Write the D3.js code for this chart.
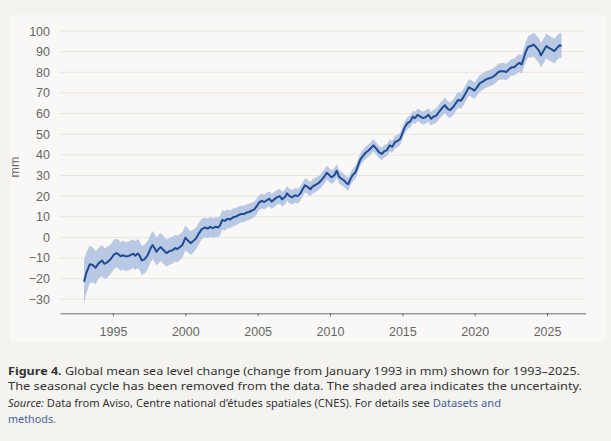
<!DOCTYPE html>
<html><head><meta charset="utf-8">
<script src="https://cdn.jsdelivr.net/npm/d3@7"></script>
<style>
html,body{margin:0;padding:0;background:#f4f3f0;}
svg{display:block;}
</style></head>
<body>
<svg id="chart" width="611" height="441"></svg>
<script>
// ---- data ----
const years = [
 1993.00,1993.15,1993.40,1993.60,1993.80,
 1994.00,1994.25,1994.40,1994.60,1994.85,
 1995.07,1995.25,1995.40,1995.53,1995.70,1995.85,
 1996.03,1996.20,1996.40,1996.54,1996.72,1996.84,
 1997.00,1997.20,1997.40,1997.60,1997.74,1997.88,
 1998.00,1998.15,1998.30,1998.47,1998.70,1998.94,
 1999.10,1999.30,1999.44,1999.63,1999.80,
 2000.00,2000.18,2000.37,2000.55,2000.74,2000.92,
 2001.13,2001.36,2001.54,2001.72,2001.90,
 2002.10,2002.28,2002.40,2002.55,2002.74,2002.92,
 2003.10,2003.30,2003.48,2003.66,2003.85,
 2004.03,2004.20,2004.40,2004.58,2004.77,2004.95,
 2005.09,2005.28,2005.46,2005.65,2005.80,2005.97,
 2006.15,2006.33,2006.52,2006.70,2006.90,
 2007.03,2007.20,2007.40,2007.58,2007.77,2007.95,
 2008.08,2008.27,2008.45,2008.64,2008.77,2008.96,
 2009.19,2009.42,2009.60,2009.77,2009.93,
 2010.10,2010.30,2010.46,2010.62,2010.80,
 2011.00,2011.15,2011.26,2011.40,2011.58,2011.77,2011.90,
 2012.10,2012.27,2012.46,2012.64,2012.83,
 2013.00,2013.20,2013.38,2013.57,2013.75,2013.94,
 2014.12,2014.30,2014.50,2014.68,2014.86,
 2015.00,2015.18,2015.37,2015.55,2015.73,2015.87,
 2016.06,2016.24,2016.42,2016.60,2016.80,2016.98,
 2017.16,2017.34,2017.50,2017.70,2017.94,
 2018.13,2018.30,2018.50,2018.68,2018.86,
 2019.05,2019.24,2019.42,2019.60,2019.80,2019.97,
 2020.16,2020.34,2020.52,2020.70,2020.90,
 2021.07,2021.26,2021.44,2021.63,2021.80,
 2022.00,2022.18,2022.37,2022.55,2022.73,2022.92,
 2023.10,2023.24,2023.38,2023.52,2023.70,2023.89,
 2024.07,2024.25,2024.44,2024.58,2024.77,2024.95,
 2025.13,2025.32,2025.50,2025.69,2025.87,2026.00
];
const gmsl = [
 -21.5,-17.5,-13.0,-13.4,-14.7,
 -12.6,-11.2,-12.8,-12.1,-10.5,
 -8.3,-7.6,-8.3,-9.2,-8.6,-9.2,
 -9.2,-8.6,-7.9,-8.9,-7.8,-8.9,
 -11.2,-10.5,-8.6,-5.3,-3.7,-5.3,
 -7.0,-5.7,-4.7,-6.0,-7.6,-6.6,
 -6.3,-5.2,-5.7,-4.7,-3.7,
 -0.2,-1.5,-2.8,-1.8,-0.5,1.7,
 3.9,4.8,4.2,5.1,4.5,
 5.1,4.8,5.8,8.4,8.0,9.0,
 8.7,9.7,10.0,10.7,11.3,
 11.3,11.9,12.3,12.9,13.6,15.2,
 16.8,17.7,17.1,18.1,18.7,17.4,
 18.4,19.4,20.0,18.4,19.7,
 21.3,20.0,19.4,20.4,20.0,21.3,
 22.9,25.2,24.5,23.3,24.5,25.3,
 26.2,27.8,29.4,31.3,30.3,
 29.1,30.1,32.3,29.4,28.4,
 27.4,26.2,25.8,28.1,30.3,31.7,34.2,
 37.8,39.4,41.0,42.0,43.3,
 44.6,43.0,41.3,40.4,41.7,42.3,
 44.6,43.9,46.2,46.8,47.8,
 50.4,53.6,55.5,56.2,58.5,57.8,
 59.4,58.5,57.8,58.2,59.4,57.5,
 58.5,59.0,60.5,62.3,64.0,
 62.3,61.7,63.0,64.9,66.6,
 66.2,68.2,70.4,72.7,72.0,71.1,
 72.7,74.6,75.3,76.2,76.9,
 77.2,77.8,78.8,80.1,80.5,
 80.5,80.1,81.4,82.4,82.4,83.7,
 84.6,83.7,86.6,89.8,92.4,92.7,
 93.4,92.1,90.5,88.2,90.5,92.7,
 91.8,91.1,90.2,91.8,93.1,92.7
];
const uncertainty = [
 10.5,10.0,9.0,8.5,8.0,
 7.5,7.5,7.5,7.5,7.2,
 7.0,7.0,7.0,7.0,7.0,7.0,
 7.0,7.0,7.0,7.0,7.0,7.0,
 7.0,7.0,7.0,6.8,6.8,6.8,
 6.8,6.8,6.8,6.8,6.5,6.5,
 6.5,6.5,6.5,6.3,6.2,
 6.0,5.8,5.8,5.5,5.3,5.2,
 5.0,4.8,4.8,4.8,4.8,
 4.8,4.8,4.8,4.7,4.7,4.6,
 4.3,4.3,4.2,4.2,4.0,
 4.0,4.0,3.9,3.9,3.8,3.8,
 3.7,3.6,3.6,3.6,3.6,3.6,
 3.6,3.6,3.6,3.6,3.6,
 3.6,3.6,3.6,3.6,3.6,3.6,
 3.5,3.5,3.5,3.5,3.5,3.5,
 3.4,3.4,3.4,3.4,3.4,
 3.3,3.3,3.3,3.3,3.3,
 3.2,3.2,3.2,3.1,3.1,3.1,3.1,
 3.0,3.0,3.0,3.0,3.0,
 3.0,3.0,3.0,3.0,3.0,3.0,
 3.0,3.0,3.0,3.0,3.0,
 3.0,3.0,3.0,3.0,3.0,3.0,
 3.1,3.1,3.2,3.2,3.3,3.3,
 3.4,3.5,3.6,3.7,3.8,
 3.8,3.8,3.8,3.8,3.8,
 3.9,3.9,3.9,4.0,4.0,4.0,
 4.0,4.0,4.0,4.0,4.0,
 4.0,4.0,4.0,4.0,4.0,
 4.0,4.0,4.0,4.0,4.1,4.2,
 4.3,4.4,4.6,4.8,5.2,5.6,
 5.8,6.0,6.0,6.0,6.0,6.0,
 6.0,6.0,6.0,6.0,6.0,6.0
];
const yTicks = [-30,-20,-10,0,10,20,30,40,50,60,70,80,90,100];
const xTicks = [1995,2000,2005,2010,2015,2020,2025];
const yLabel = "mm";

const series = years.map((t,i)=>({t, v:gmsl[i], u:uncertainty[i]}));

// ---- layout ----
const svg = d3.select("#chart");
svg.append("rect").attr("x",10).attr("y",15).attr("width",595).attr("height",327).attr("fill","#f9f8f6");

const x = d3.scaleLinear().domain([1991.34, 2027.67]).range([60, 585.7]);
const y = d3.scaleLinear().domain([-36.8, 100]).range([313.3, 31]);

// gridlines
svg.append("g").selectAll("line").data(yTicks).join("line")
  .attr("x1",60).attr("x2",585)
  .attr("y1",d=>y(d)).attr("y2",d=>y(d))
  .attr("stroke","#e7e5e1").attr("stroke-width",1);

// y axis labels
const yAxis = svg.append("g").attr("transform","translate(60,0)")
  .call(d3.axisLeft(y).tickValues(yTicks).tickSize(0).tickPadding(10));
yAxis.select(".domain").remove();
yAxis.selectAll("text").attr("font-family","Liberation Sans, Arial, sans-serif")
  .attr("font-size",12.5).attr("fill","#666");

// x axis
const xAxis = svg.append("g").attr("transform","translate(0,313.3)")
  .call(d3.axisBottom(x).tickValues(xTicks).tickFormat(d3.format("d")).tickSize(3).tickSizeOuter(0).tickPadding(11));
xAxis.select(".domain").attr("stroke","#6b6b6b");
xAxis.selectAll(".tick line").attr("stroke","#6b6b6b");
xAxis.selectAll("text").attr("font-family","Liberation Sans, Arial, sans-serif")
  .attr("font-size",12.5).attr("fill","#666");

svg.append("text").attr("transform","translate(19,167) rotate(-90)")
  .attr("text-anchor","middle").attr("font-family","Liberation Sans, Arial, sans-serif")
  .attr("font-size",12.5).attr("fill","#666").text(yLabel);

// band
const area = d3.area().x(d=>x(d.t)).y0(d=>y(d.v-d.u)).y1(d=>y(d.v+d.u)).curve(d3.curveLinear);
svg.append("path").datum(series).attr("d",area).attr("fill","#b9c9e3");

// line
const line = d3.line().x(d=>x(d.t)).y(d=>y(d.v)).curve(d3.curveLinear);
svg.append("path").datum(series).attr("d",line).attr("fill","none")
  .attr("stroke","#1f4b94").attr("stroke-width",2).attr("stroke-linejoin","round");

// caption
const cap = svg.append("g").attr("font-family","Noto Sans, Open Sans, sans-serif")
  .attr("font-size",11.3).attr("fill","#333");
const l1 = cap.append("text").attr("x",8).attr("y",374.5).attr("textLength",572).attr("lengthAdjust","spacingAndGlyphs");
l1.append("tspan").attr("font-weight","bold").text("Figure 4.");
l1.append("tspan").text(" Global mean sea level change (change from January 1993 in mm) shown for 1993–2025.");
cap.append("text").attr("x",8).attr("y",390).attr("textLength",574).attr("lengthAdjust","spacingAndGlyphs")
  .text("The seasonal cycle has been removed from the data. The shaded area indicates the uncertainty.");
const l3 = cap.append("text").attr("x",8).attr("y",406.5).attr("textLength",493).attr("lengthAdjust","spacingAndGlyphs");
l3.append("tspan").attr("font-style","italic").text("Source:");
l3.append("tspan").text(" Data from Aviso, Centre national d’études spatiales (CNES). For details see ");
l3.append("tspan").attr("fill","#45649a").text("Datasets and");
cap.append("text").attr("x",8).attr("y",423).attr("textLength",48).attr("lengthAdjust","spacingAndGlyphs")
  .attr("fill","#45649a").text("methods.");
</script>
</body></html>
